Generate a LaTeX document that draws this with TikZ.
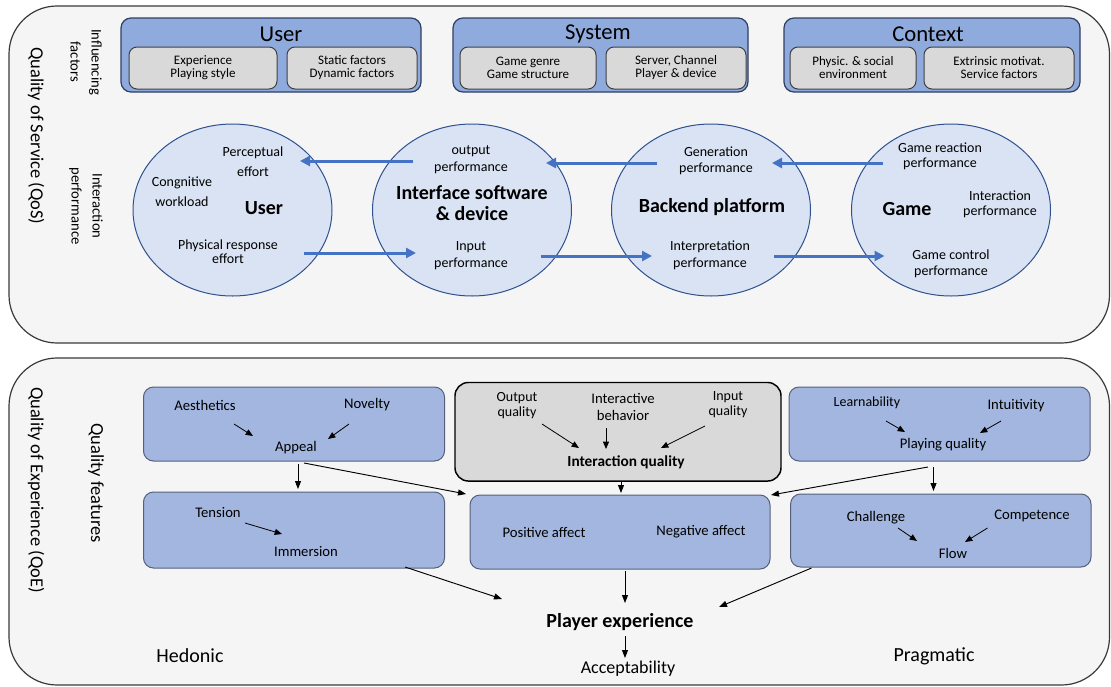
\documentclass[tikz,border=0pt]{standalone}
\usepackage{fontspec}
\setmainfont{Carlito}
\usetikzlibrary{shapes.geometric,arrows.meta}

\definecolor{panelfill}{HTML}{F5F5F5}
\definecolor{panelline}{HTML}{3A3A3A}
\definecolor{factorfill}{HTML}{8FAADC}
\definecolor{factorline}{HTML}{2F3F63}
\definecolor{subfill}{HTML}{D9D9D9}
\definecolor{subline}{HTML}{404040}
\definecolor{ellfill}{HTML}{DAE3F3}
\definecolor{ellline}{HTML}{2F528F}
\definecolor{flowblue}{HTML}{4472C4}
\definecolor{featfill}{HTML}{A2B6DF}
\definecolor{featline}{HTML}{55607A}

\newcommand{\fsz}[2]{\fontsize{#1}{#2}\selectfont}

\begin{document}
\begin{tikzpicture}[x=0.75pt, y=-0.75pt,
  every node/.style={inner sep=0pt, outer sep=0pt},
  panel/.style={draw=panelline, fill=panelfill, line width=0.9pt, rounded corners=36pt},
  factorbox/.style={draw=factorline, fill=factorfill, line width=0.9pt, rounded corners=7.5pt, minimum height=55.5pt},
  factortitle/.style={font=\fsz{17}{20}},
  subbox/.style={draw=subline, fill=subfill, line width=0.75pt, rounded corners=6pt, minimum height=31.5pt, align=center, font=\fsz{9.75}{9.75}},
  ell/.style={ellipse, draw=ellline, fill=ellfill, line width=0.75pt, minimum width=149.25pt, minimum height=129pt},
  etext/.style={align=center, font=\fsz{10.5}{#1}},
  etitle/.style={align=center, font=\bfseries\fsz{15}{15.75}},
  feat/.style={draw=featline, fill=featfill, line width=0.75pt, rounded corners=7.5pt},
  qbox/.style={draw=black, fill=subfill, line width=1.1pt, rounded corners=10pt},
  ftext/.style={align=center, font=\fsz{11}{#1}},
  sidelabel/.style={rotate=-90, align=center, font=\fsz{#1}{15.75}},
  flowarrow/.style={draw=flowblue, line width=2.25pt, -{Triangle[length=7.5pt,width=7.5pt]}},
  link/.style={draw=black, line width=0.7pt, -{Triangle[length=6pt,width=4.5pt]}},
  innerlink/.style={draw=black, line width=0.6pt, -{Triangle[length=5.5pt,width=4.5pt]}}
]
\useasboundingbox (0,0) rectangle (1111,686);
\fill[white] (0,0) rectangle (1111,686);

% ---------------- Quality of Service panel ----------------
\draw[panel] (9,6) rectangle (1109.5,343);
\node[sidelabel=13.8] (qos) at (36,136) {Quality of Service (QoS)};
\node[sidelabel=11] (influencing) at (86,62) {Influencing\\factors};
\node[sidelabel=11] (interperf) at (86,206) {Interaction\\performance};

% influencing factors
\node[factorbox, minimum width=225pt] (userbox) at (271,55) {};
\node[factortitle] (usertitle) at (281,34) {User};
\node[subbox, minimum width=111pt] (u1) at (203,68) {Experience\\Playing style};
\node[subbox, minimum width=97.5pt] (u2) at (352,68) {Static factors\\Dynamic factors};

\node[factorbox, minimum width=221.25pt] (sysbox) at (600.5,55) {};
\node[factortitle] (systitle) at (598,34) {System};
\node[subbox, minimum width=102pt] (s1) at (528,68) {Game genre\\Game structure};
\node[subbox, minimum width=105pt] (s2) at (676,68) {Server, Channel\\Player \& device};

\node[factorbox, minimum width=222pt] (ctxbox) at (932,55) {};
\node[factortitle] (ctxtitle) at (928,34) {Context};
\node[subbox, minimum width=94.5pt] (c1) at (853,68) {Physic. \& social\\environment};
\node[subbox, minimum width=112.5pt] (c2) at (999,68) {Extrinsic motivat.\\Service factors};

% interaction chain
\node[ell] (euser) at (232.5,210) {};
\node[etext=15] (perceptual) at (253,162) {Perceptual\\effort};
\node[etext=15] (cognitive) at (182,192) {Congnitive\\workload};
\node[etitle] (usert) at (264,208) {User};
\node[etext=10.5] (physical) at (228,252) {Physical response\\effort};

\node[ell] (einterface) at (472,210) {};
\node[etext=12.75] (outperf) at (471,159.5) {output\\performance};
\node[etitle] (interfacet) at (472,203.5) {Interface software\\\& device};
\node[etext=12.75] (inperf) at (471,255.5) {Input\\performance};

\node[ell] (ebackend) at (711,210) {};
\node[etext=12] (genperf) at (716,161) {Generation\\performance};
\node[etitle] (backendt) at (712,207) {Backend platform};
\node[etext=12.75] (interpperf) at (710,255.5) {Interpretation\\performance};

\node[ell] (egame) at (951,210) {};
\node[etext=11.25] (reactperf) at (940,156.5) {Game reaction\\performance};
\node[etitle] (gamet) at (907,209) {Game};
\node[etext=11.25] (interactperf) at (1000,204.5) {Interaction\\performance};
\node[etext=12] (controlperf) at (951,264) {Game control\\performance};

% output direction
\coordinate (o1s) at (412.5,161); \coordinate (o1e) at (300,161);
\coordinate (o2s) at (657,163);   \coordinate (o2e) at (546,163);
\coordinate (o3s) at (883,163);   \coordinate (o3e) at (772,163);
\draw[flowarrow] (o1s) -- (o1e);
\draw[flowarrow] (o2s) -- (o2e);
\draw[flowarrow] (o3s) -- (o3e);
% input direction
\coordinate (i1s) at (303.5,253); \coordinate (i1e) at (416,253);
\coordinate (i2s) at (541,256);   \coordinate (i2e) at (652,256);
\coordinate (i3s) at (774,256);   \coordinate (i3e) at (884.5,256);
\draw[flowarrow] (i1s) -- (i1e);
\draw[flowarrow] (i2s) -- (i2e);
\draw[flowarrow] (i3s) -- (i3e);

% ---------------- Quality of Experience panel ----------------
\draw[panel] (9,358) rectangle (1109.5,685);
\node[sidelabel=13.8] (qoe) at (36,490) {Quality of Experience (QoE)};
\node[sidelabel=13.8] (qfeat) at (96,483) {Quality features};

% appeal
\node[feat, minimum width=225.75pt, minimum height=55.5pt] (appealbox) at (294,424) {};
\node[ftext=13] (aesthetics) at (205,405) {Aesthetics};
\node[ftext=13] (novelty) at (367,405) {Novelty};
\node[ftext=13] (appeal) at (296,448) {Appeal};
\coordinate (ap1s) at (234,424); \coordinate (ap1e) at (253,436);
\coordinate (ap2s) at (349,424); \coordinate (ap2e) at (328,439);
\draw[innerlink] (ap1s) -- (ap1e);
\draw[innerlink] (ap2s) -- (ap2e);

% interaction quality
\node[qbox, minimum width=244.5pt, minimum height=73.9pt] (iqbox) at (618,431.75) {};
\node[ftext=11.25, font=\fsz{10.5}{11.25}] (outq) at (517,405.5) {Output\\quality};
\node[ftext=12.75] (interbeh) at (623,406.5) {Interactive\\behavior};
\node[ftext=11.25, font=\fsz{10.5}{11.25}] (inq) at (728,404.5) {Input\\quality};
\node[font=\bfseries\fsz{11.5}{13}] (iq) at (626,462) {Interaction quality};
\coordinate (iq1s) at (542,424); \coordinate (iq1e) at (579,448);
\coordinate (iq2s) at (606,428); \coordinate (iq2e) at (606,449);
\coordinate (iq3s) at (705,426); \coordinate (iq3e) at (661,448);
\draw[innerlink] (iq1s) -- (iq1e);
\draw[innerlink] (iq2s) -- (iq2e);
\draw[innerlink] (iq3s) -- (iq3e);

% playing quality
\node[feat, minimum width=225.75pt, minimum height=55.5pt] (playbox) at (939.5,424) {};
\node[ftext=13, font=\fsz{10.5}{13}] (learn) at (867,403) {Learnability};
\node[ftext=13] (intuit) at (1016,406) {Intuitivity};
\node[ftext=13] (playq) at (943,445) {Playing quality};
\coordinate (pq1s) at (886,421); \coordinate (pq1e) at (905,432);
\coordinate (pq2s) at (1001,421); \coordinate (pq2e) at (980,433);
\draw[innerlink] (pq1s) -- (pq1e);
\draw[innerlink] (pq2s) -- (pq2e);

% immersion
\node[feat, minimum width=225.75pt, minimum height=57pt] (immbox) at (294,530) {};
\node[ftext=13] (tension) at (218,513) {Tension};
\node[ftext=13] (immersion) at (306,552) {Immersion};
\coordinate (im1s) at (245,523); \coordinate (im1e) at (282,534);
\draw[innerlink] (im1s) -- (im1e);

% affect
\node[feat, minimum width=225pt, minimum height=55.5pt] (affbox) at (620,532) {};
\node[ftext=13] (posaff) at (544,532) {Positive affect};
\node[ftext=13] (negaff) at (701,532) {Negative affect};

% flow
\node[feat, minimum width=225.3pt, minimum height=54.75pt] (flowbox) at (940.8,530.5) {};
\node[ftext=13] (challenge) at (876,518) {Challenge};
\node[ftext=13] (competence) at (1032,516) {Competence};
\node[ftext=13] (flow) at (953,553) {Flow};
\coordinate (fl1s) at (898,528); \coordinate (fl1e) at (917,541);
\coordinate (fl2s) at (987.5,528); \coordinate (fl2e) at (965,542);
\draw[innerlink] (fl1s) -- (fl1e);
\draw[innerlink] (fl2s) -- (fl2e);

% outcome
\node[font=\bfseries\fsz{15}{18}] (px) at (620,622) {Player experience};
\node[font=\fsz{13.5}{16}] (accept) at (628,669) {Acceptability};
\node[font=\fsz{15}{18}] (hedonic) at (190,656) {Hedonic};
\node[font=\fsz{15}{18}] (pragmatic) at (934,656) {Pragmatic};

% links between the feature groups
\coordinate (l1s) at (298,464);   \coordinate (l1e) at (298,489);
\coordinate (l2s) at (304,463);   \coordinate (l2e) at (466,494);
\coordinate (l3s) at (621,482);   \coordinate (l3e) at (621,493);
\coordinate (l4s) at (933.5,467); \coordinate (l4e) at (933.5,491);
\coordinate (l5s) at (928,467);   \coordinate (l5e) at (771,495);
\coordinate (l6s) at (405,567);   \coordinate (l6e) at (502,599);
\coordinate (l7s) at (625,571);   \coordinate (l7e) at (625,603);
\coordinate (l8s) at (811.5,568); \coordinate (l8e) at (719,607);
\coordinate (l9s) at (625,636);   \coordinate (l9e) at (625,658);
\draw[link] (l1s) -- (l1e);
\draw[link] (l2s) -- (l2e);
\draw[link] (l3s) -- (l3e);
\draw[link] (l4s) -- (l4e);
\draw[link] (l5s) -- (l5e);
\draw[link] (l6s) -- (l6e);
\draw[link] (l7s) -- (l7e);
\draw[link] (l8s) -- (l8e);
\draw[link] (l9s) -- (l9e);
\end{tikzpicture}
\end{document}
